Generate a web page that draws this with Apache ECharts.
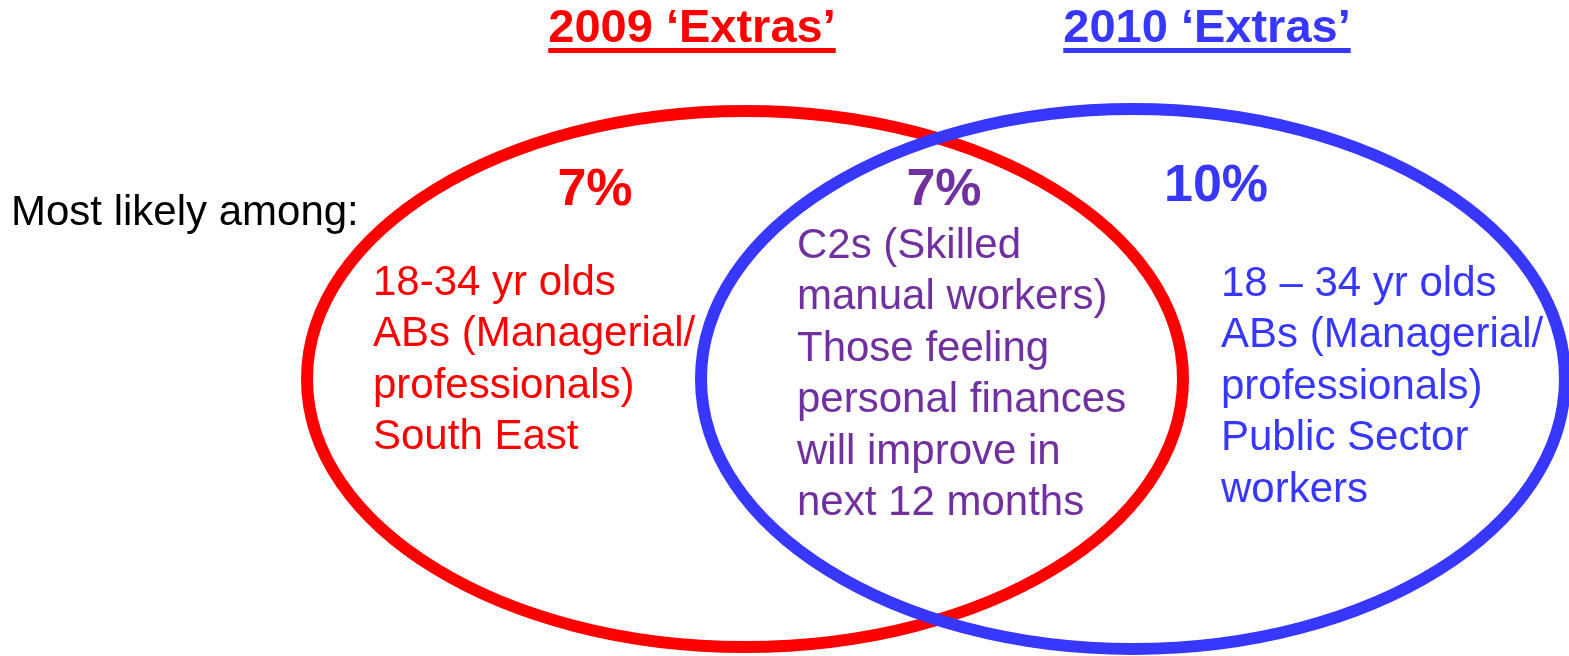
<!DOCTYPE html>
<html lang="en">
<head>
<meta charset="UTF-8">
<title>2009 / 2010 Extras</title>
<script src="https://cdn.jsdelivr.net/npm/echarts@6/dist/echarts.min.js"></script>
<style>
  html, body { margin: 0; padding: 0; background: #fff; }
  #chart { width: 1569px; height: 656px; }
</style>
</head>
<body>
<div id="chart"></div>
<script>
// --- content ---
const setNames = ['2009 ‘Extras’', '2010 ‘Extras’'];
const shareLabels = ['7%', '7%', '10%'];          // 2009 only, both years, 2010 only
const leadText = 'Most likely among:';
const groups2009 = ['18-34 yr olds', 'ABs (Managerial/', 'professionals)', 'South East'];
const groupsBoth = ['C2s (Skilled', 'manual workers)', 'Those feeling', 'personal finances', 'will improve in', 'next 12 months'];
const groups2010 = ['18 – 34 yr olds', 'ABs (Managerial/', 'professionals)', 'Public Sector', 'workers'];

// --- look & layout (axis units = px of the 1569x656 canvas) ---
const RED = '#ff0000', BLUE = '#3737ff', PURPLE = '#7030a0';
const FONT = '"Liberation Sans", Arial, Helvetica, sans-serif';
const ellipses = [
    { cx: 745, cy: 379, rx: 438, ry: 268, color: RED },
    { cx: 1133, cy: 379, rx: 432, ry: 270, color: BLUE }
];
const LINE_H = 51.5;
const BASE_K = 0.28;   // alphabetic baseline below the line middle, in em

const texts = [
    { text: setNames[0], x: 692, base: 42, size: 47, bold: true, color: RED, align: 'center', underline: true },
    { text: setNames[1], x: 1207, base: 42, size: 47, bold: true, color: BLUE, align: 'center', underline: true },
    { text: shareLabels[0], x: 595, base: 205, size: 52, bold: true, color: RED, align: 'center' },
    { text: shareLabels[1], x: 944, base: 205, size: 52, bold: true, color: PURPLE, align: 'center' },
    { text: shareLabels[2], x: 1216, base: 201, size: 52, bold: true, color: BLUE, align: 'center' },
    { text: leadText, x: 11, base: 225, size: 42, color: '#000', align: 'left' },
    { text: groups2009.join('\n'), x: 373, base: 295, size: 42, color: RED, align: 'left' },
    { text: groupsBoth.join('\n'), x: 797, base: 258, size: 42, color: PURPLE, align: 'left' },
    { text: groups2010.join('\n'), x: 1221, base: 296, size: 42, color: BLUE, align: 'left' }
];

const measureCtx = document.createElement('canvas').getContext('2d');
function textWidth(t) {
    measureCtx.font = (t.bold ? 'bold ' : '') + t.size + 'px ' + FONT;
    return measureCtx.measureText(t.text).width;
}

const chart = echarts.init(document.getElementById('chart'), null, { renderer: 'canvas' });

chart.setOption({
    animation: false,
    grid: { left: 0, right: 0, top: 0, bottom: 0 },
    xAxis: { type: 'value', min: 0, max: 1569, show: false },
    yAxis: { type: 'value', min: 0, max: 656, inverse: true, show: false },
    series: [
        {
            type: 'custom',
            clip: false,
            data: ellipses.map(e => [e.cx, e.cy, e.rx, e.ry]),
            renderItem: function (params, api) {
                const c = api.coord([api.value(0), api.value(1)]);
                const s = api.size([api.value(2), api.value(3)]);
                return {
                    type: 'ellipse',
                    shape: { cx: c[0], cy: c[1], rx: s[0], ry: s[1] },
                    style: { fill: null, stroke: ellipses[params.dataIndex].color, lineWidth: 12 }
                };
            }
        },
        {
            type: 'custom',
            clip: false,
            data: texts.map(t => [t.x, t.base]),
            renderItem: function (params, api) {
                const t = texts[params.dataIndex];
                const p = api.coord([api.value(0), api.value(1)]);
                // first line baseline -> top of the text box
                const top = p[1] - LINE_H / 2 - BASE_K * t.size;
                const children = [{
                    type: 'text',
                    x: p[0], y: top,
                    style: {
                        text: t.text,
                        fill: t.color,
                        fontSize: t.size,
                        fontWeight: t.bold ? 'bold' : 'normal',
                        fontFamily: FONT,
                        lineHeight: LINE_H,
                        align: t.align,
                        verticalAlign: 'top'
                    }
                }];
                if (t.underline) {
                    const w = textWidth(t);
                    children.push({
                        type: 'rect',
                        shape: { x: p[0] - w / 2, y: p[1] + 6, width: w, height: 5 },
                        style: { fill: t.color }
                    });
                }
                return { type: 'group', children: children };
            }
        }
    ]
});
</script>
</body>
</html>
